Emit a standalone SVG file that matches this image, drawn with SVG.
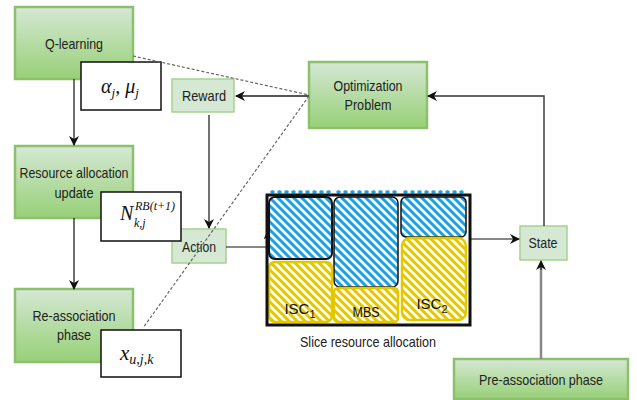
<svg xmlns="http://www.w3.org/2000/svg" width="637" height="400" viewBox="0 0 637 400">
<style>
.gb{fill:url(#gg);stroke:#8cc06c;stroke-width:2.5}
.lb{fill:#d5e8d4;stroke:#a9d18e;stroke-width:1.5}
.wb{fill:#fff;stroke:#111;stroke-width:1.5}
.t{font-family:"Liberation Sans",Arial,sans-serif;font-size:15px;fill:#222;text-anchor:middle}
.m{font-family:"Liberation Serif","Times New Roman",serif;font-style:italic;fill:#111}
.dash{fill:none;stroke:#666;stroke-width:1.2;stroke-dasharray:3 2}
.ln{fill:none;stroke:#111;stroke-width:1.2}
.sl{font-family:"Liberation Sans",Arial,sans-serif;font-size:15px;fill:#111;text-anchor:middle}
</style>
<defs>
<linearGradient id="gg" x1="0" y1="0" x2="0" y2="1">
<stop offset="0" stop-color="#d5e8d4"/>
<stop offset="1" stop-color="#97d077"/>
</linearGradient>
<pattern id="blue" patternUnits="userSpaceOnUse" width="8" height="8">
<rect width="8" height="8" fill="#fff"/>
<path d="M0,0L8,8M-4,4L4,12M4,-4L12,4" stroke="#1ba1e2" stroke-width="3"/>
</pattern>
<pattern id="yel" patternUnits="userSpaceOnUse" width="8" height="8">
<rect width="8" height="8" fill="#fff"/>
<path d="M0,0L8,8M-4,4L4,12M4,-4L12,4" stroke="#e3c800" stroke-width="3"/>
</pattern>
<marker id="ah" viewBox="0 0 10 10" refX="9" refY="5" markerWidth="7" markerHeight="7" orient="auto" markerUnits="userSpaceOnUse">
<path d="M0,0L10,5L0,10L3,5z" fill="#111"/>
</marker>
<marker id="ahb" viewBox="0 0 10 10" refX="9" refY="5" markerWidth="10" markerHeight="10" orient="auto" markerUnits="userSpaceOnUse">
<path d="M0,0L10,5L0,10L3,5z" fill="#111"/>
</marker>
</defs>

<g id="q-learning">
<rect class="gb" x="15" y="7" width="118" height="72"/>
<text class="t" x="74" y="49" textLength="58" lengthAdjust="spacingAndGlyphs">Q-learning</text>
</g>
<g id="resource-allocation">
<rect class="gb" x="15" y="146" width="118" height="72"/>
<text class="t" x="74" y="178" textLength="109" lengthAdjust="spacingAndGlyphs">Resource allocation</text>
<text class="t" x="74" y="198" textLength="39" lengthAdjust="spacingAndGlyphs">update</text>
</g>
<g id="re-association">
<rect class="gb" x="15" y="289" width="118" height="73"/>
<text class="t" x="74" y="321" textLength="83" lengthAdjust="spacingAndGlyphs">Re-association</text>
<text class="t" x="74" y="340" textLength="34" lengthAdjust="spacingAndGlyphs">phase</text>
</g>
<g id="optimization">
<rect class="gb" x="309" y="62" width="118" height="66"/>
<text class="t" x="368" y="91" textLength="69" lengthAdjust="spacingAndGlyphs">Optimization</text>
<text class="t" x="368" y="110" textLength="47" lengthAdjust="spacingAndGlyphs">Problem</text>
</g>
<g id="pre-association">
<rect class="gb" x="454" y="359" width="174" height="40"/>
<text class="t" x="541" y="385" textLength="124" lengthAdjust="spacingAndGlyphs">Pre-association phase</text>
</g>
<g id="reward">
<rect class="lb" x="172" y="79" width="62" height="33"/>
<text class="t" x="204" y="101" textLength="44" lengthAdjust="spacingAndGlyphs">Reward</text>
</g>
<g id="action">
<rect class="lb" x="172" y="229" width="54" height="34"/>
<text class="t" x="199" y="252" textLength="34" lengthAdjust="spacingAndGlyphs">Action</text>
</g>
<g id="state">
<rect class="lb" x="520" y="226" width="47" height="34"/>
<text class="t" x="543" y="248" textLength="29" lengthAdjust="spacingAndGlyphs">State</text>
</g>

<g id="alpha-mu">
<rect class="wb" x="81" y="62" width="80" height="48"/>
<text class="m" x="101" y="93" font-size="20">α<tspan font-size="13" dy="4">j</tspan><tspan dy="-4">, μ</tspan><tspan font-size="13" dy="4">j</tspan></text>
</g>
<g id="n-label">
<rect class="wb" x="101" y="192" width="80" height="49"/>
<text class="m" x="120" y="220" font-size="20">N</text>
<text class="m" x="135" y="210" font-size="12">RB(t+1)</text>
<text class="m" x="134" y="227" font-size="12">k,j</text>
</g>
<g id="x-label">
<rect class="wb" x="101" y="330" width="80" height="47"/>
<text class="m" x="120" y="360" font-size="21">x<tspan font-size="14" dy="4">u,j,k</tspan></text>
</g>

<g id="slice">
<path d="M272,192h58M338,192h58M405,192h60" stroke="#1ba1e2" stroke-width="3.5" stroke-linecap="round" stroke-dasharray="1 6" fill="none"/>
<rect x="269" y="197" width="63" height="62" rx="6" fill="url(#blue)" stroke="#111" stroke-width="2"/>
<rect x="334" y="197" width="64" height="90" rx="6" fill="url(#blue)" stroke="#111" stroke-width="1.5"/>
<rect x="401" y="197" width="65" height="40" rx="5" fill="url(#blue)" stroke="#111" stroke-width="1.5"/>
<rect x="269" y="262" width="63" height="60" rx="6" fill="url(#yel)" stroke="#e3c800" stroke-width="2.5"/>
<rect x="334" y="288" width="64" height="34" rx="4" fill="url(#yel)" stroke="#e3c800" stroke-width="2.5"/>
<rect x="402" y="238" width="64" height="82" rx="8" fill="url(#yel)" stroke="#e3c800" stroke-width="2.5"/>
<rect x="267" y="195" width="203" height="130" fill="none" stroke="#111" stroke-width="3"/>
<text class="sl" x="300" y="314">ISC<tspan font-size="11" dy="4">1</tspan></text>
<text class="sl" x="366" y="317" textLength="27" lengthAdjust="spacingAndGlyphs">MBS</text>
<text class="sl" x="432" y="309">ISC<tspan font-size="11" dy="4">2</tspan></text>
<text class="t" x="368" y="347" font-size="14" fill="#333" textLength="136" lengthAdjust="spacingAndGlyphs">Slice resource allocation</text>
</g>

<g id="connectors">
<path class="ln" d="M74,79V145" marker-end="url(#ahb)"/>
<path class="ln" d="M74,218V289" marker-end="url(#ahb)"/>
<path d="M309,96H236" fill="none" stroke="#555" stroke-width="2" marker-end="url(#ahb)"/>
<path class="ln" d="M209,115V228" marker-end="url(#ahb)"/>
<path class="ln" d="M226,247H267V233" marker-end="url(#ah)"/>
<path class="ln" d="M470,239H519" marker-end="url(#ahb)"/>
<path d="M544,226V96H428" fill="none" stroke="#333" stroke-width="1.4" marker-end="url(#ahb)"/>
<path d="M541,359V262" fill="none" stroke="#888" stroke-width="2.5"/>
<path d="M541,270V261" fill="none" stroke="#111" stroke-width="1" marker-end="url(#ahb)"/>
<path class="dash" d="M133,56L309,95"/>
<path class="dash" d="M309,96L143,328"/>
</g>
</svg>
